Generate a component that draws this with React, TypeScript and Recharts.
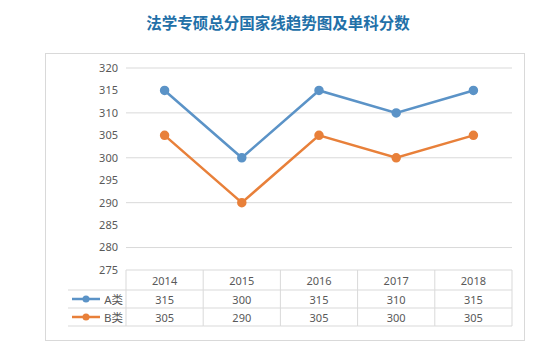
import React from 'react';
import { LineChart, Line, XAxis, YAxis, CartesianGrid } from 'recharts';

const years = ['2014', '2015', '2016', '2017', '2018'];
const seriesA = [315, 300, 315, 310, 315];
const seriesB = [305, 290, 305, 300, 305];
const yTicks = [275, 280, 285, 290, 295, 300, 305, 310, 315, 320];

const data = years.map((year, i) => ({ year, A: seriesA[i], B: seriesB[i] }));

const COLORS = {
    a: '#5b93c7',
    b: '#e8803a',
    grid: '#d9d9d9',
    text: '#595959',
    title: '#2270a8',
};

const FONT = '"Noto Sans", "Noto Sans CJK SC", sans-serif';
const W = 556;
const H = 352;
const PLOT_LEFT = 126;
const PLOT_RIGHT = 512;
const PLOT_TOP = 68;
const TABLE_TOP = 270;
const ROW_Y = [290, 308, 326];
const BW = (PLOT_RIGHT - PLOT_LEFT) / years.length;
const LEGEND_LEFT = 68;
const XAXIS_H = 60;
const YAXIS_W = 40;

const TableTick = (props: any) => {
    const { x, index } = props;
    const left = x - BW / 2;
    const right = x + BW / 2;
    const rows = [years[index], String(seriesA[index]), String(seriesB[index])];
    const centers = [TABLE_TOP + 10, ROW_Y[0] + 9, ROW_Y[1] + 9];
    return (
        <g>
            {index === 0 && (
                <g>
                    <line x1={left} x2={left} y1={TABLE_TOP} y2={ROW_Y[2]} stroke={COLORS.grid} />
                    <line x1={LEGEND_LEFT} x2={left} y1={ROW_Y[0]} y2={ROW_Y[0]} stroke={COLORS.grid} />
                    <line x1={LEGEND_LEFT} x2={left} y1={ROW_Y[1]} y2={ROW_Y[1]} stroke={COLORS.grid} />
                    <line x1={LEGEND_LEFT} x2={left} y1={ROW_Y[2]} y2={ROW_Y[2]} stroke={COLORS.grid} />
                    {[
                        { name: 'A类', color: COLORS.a, y: centers[1] },
                        { name: 'B类', color: COLORS.b, y: centers[2] },
                    ].map((s) => (
                        <g key={s.name}>
                            <line x1={72} x2={100} y1={s.y} y2={s.y} stroke={s.color} strokeWidth={2.5} />
                            <circle cx={86} cy={s.y} r={3.5} fill={s.color} />
                            <text x={left - 3} y={s.y} textAnchor="end" dominantBaseline="central"
                                fontSize={11.5} fill={COLORS.text} fontFamily={FONT}>{s.name}</text>
                        </g>
                    ))}
                </g>
            )}
            <line x1={right} x2={right} y1={TABLE_TOP} y2={ROW_Y[2]} stroke={COLORS.grid} />
            {ROW_Y.map((ry) => (
                <line key={ry} x1={left} x2={right} y1={ry} y2={ry} stroke={COLORS.grid} />
            ))}
            {rows.map((t, i) => (
                <text key={i} x={x} y={centers[i]} textAnchor="middle" dominantBaseline="central"
                    fontSize={11} fill={COLORS.text} fontFamily={FONT}>{t}</text>
            ))}
        </g>
    );
};

export default function App() {
    return (
        <div style={{ position: 'absolute', left: 0, top: 0, width: W, height: H, background: '#fff', fontFamily: FONT }}>
            <div style={{
                position: 'absolute', left: 0, width: W, top: 11, textAlign: 'center',
                fontSize: 15.5, fontWeight: 'bold', color: COLORS.title, fontFamily: FONT,
            }}>
                法学专硕总分国家线趋势图及单科分数
            </div>
            <div style={{
                position: 'absolute', left: 45, top: 53, width: 480, height: 288,
                border: `1px solid ${COLORS.grid}`, boxSizing: 'border-box',
            }} />
            <div style={{ position: 'absolute', left: 0, top: 0 }}>
                <LineChart
                    width={W}
                    height={H}
                    data={data}
                    margin={{ top: PLOT_TOP, right: W - PLOT_RIGHT, left: PLOT_LEFT - YAXIS_W, bottom: H - TABLE_TOP - XAXIS_H }}
                >
                    <CartesianGrid vertical={false} stroke={COLORS.grid} />
                    <XAxis
                        dataKey="year"
                        height={XAXIS_H}
                        axisLine={false}
                        tickLine={false}
                        interval={0}
                        padding={{ left: BW / 2, right: BW / 2 }}
                        tick={(p: any) => <TableTick {...p} />}
                    />
                    <YAxis
                        width={YAXIS_W}
                        domain={[275, 320]}
                        ticks={yTicks}
                        axisLine={false}
                        tickLine={false}
                        tick={{ fill: COLORS.text, fontSize: 11, fontFamily: FONT }}
                    />
                    <Line dataKey="A" stroke={COLORS.a} strokeWidth={2.5}
                        dot={{ r: 3.5, fill: COLORS.a, stroke: COLORS.a }} isAnimationActive={false} />
                    <Line dataKey="B" stroke={COLORS.b} strokeWidth={2.5}
                        dot={{ r: 3.5, fill: COLORS.b, stroke: COLORS.b }} isAnimationActive={false} />
                </LineChart>
            </div>
        </div>
    );
}
